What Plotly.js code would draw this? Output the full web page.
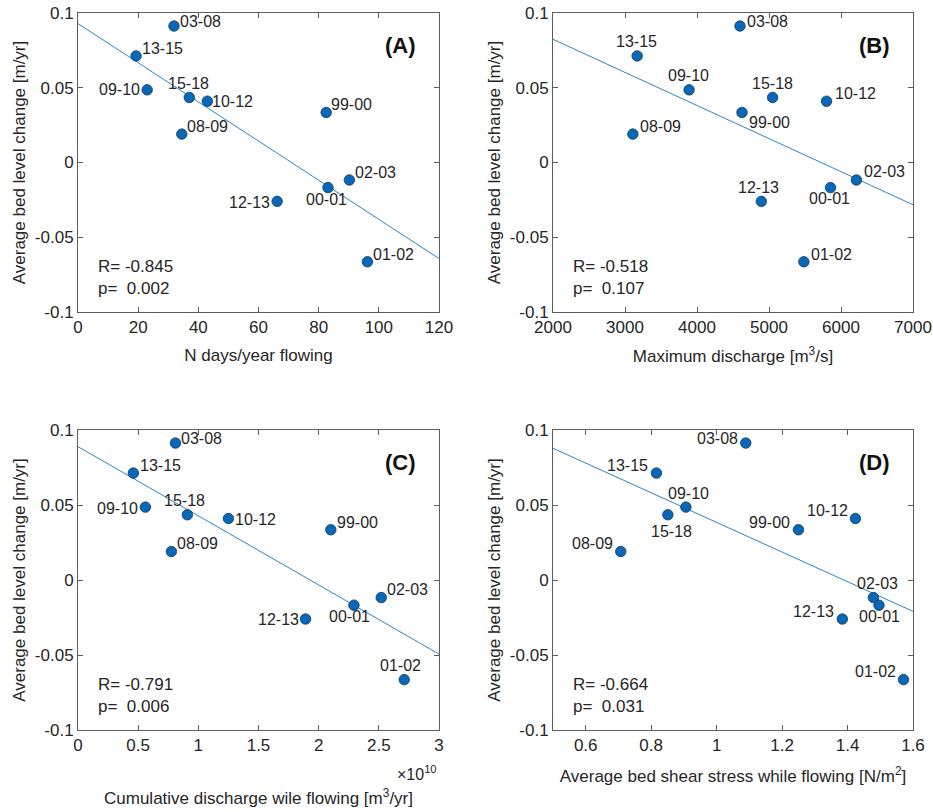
<!DOCTYPE html>
<html>
<head>
<meta charset="utf-8">
<script src="https://cdn.plot.ly/plotly-3.0.1.min.js"></script>
<style>html,body{margin:0;padding:0;background:#fff;}#chart{width:933px;height:812px;}</style>
</head>
<body>
<div id="chart"></div>
<script>
// ---------------- DATA ----------------
const yearLabels   = ['03-08','13-15','09-10','15-18','10-12','99-00','08-09','02-03','00-01','12-13','01-02'];
const bedChange    = [0.0913, 0.0713, 0.0486, 0.0435, 0.0410, 0.0335, 0.0190, -0.0117, -0.0168, -0.0260, -0.0664]; // m/yr
const daysFlowing  = [31.9, 19.3, 23.0, 37.0, 43.0, 82.5, 34.5, 90.2, 83.1, 66.2, 96.2];            // N days/year
const maxDischarge = [4597, 3169, 3890, 5050, 5799, 4625, 3109, 6214, 5854, 4893, 5484];            // m3/s
const cumDischarge = [0.810e10, 0.460e10, 0.560e10, 0.909e10, 1.250e10, 2.101e10, 0.776e10, 2.520e10, 2.293e10, 1.891e10, 2.711e10]; // m3/yr
const shearStress  = [1.089, 0.816, 0.906, 0.851, 1.424, 1.250, 0.707, 1.479, 1.496, 1.384, 1.571]; // N/m2
const statR        = ['-0.845', '-0.518', '-0.791', '-0.664'];
const statP        = ['0.002', '0.107', '0.006', '0.031'];
const panelTags    = ['(A)', '(B)', '(C)', '(D)'];
const xTitles      = ['N days/year flowing', 'Maximum discharge [m<sup>3</sup>/s]',
                      'Cumulative discharge wile flowing [m<sup>3</sup>/yr]',
                      'Average bed shear stress while flowing [N/m<sup>2</sup>]'];
const yTitle       = 'Average bed level change [m/yr]';
const yTickVals    = [-0.1, -0.05, 0, 0.05, 0.1];
const yTickText    = ['-0.1', '-0.05', '0', '0.05', '0.1'];
const xTickValsA   = [0, 20, 40, 60, 80, 100, 120];
const xTickTextA   = ['0', '20', '40', '60', '80', '100', '120'];
const xTickValsB   = [2000, 3000, 4000, 5000, 6000, 7000];
const xTickTextB   = ['2000', '3000', '4000', '5000', '6000', '7000'];
const xTickValsC   = [0, 0.5, 1, 1.5, 2, 2.5, 3];
const xTickTextC   = ['0', '0.5', '1', '1.5', '2', '2.5', '3'];
const xTickValsD   = [0.6, 0.8, 1, 1.2, 1.4, 1.6];
const xTickTextD   = ['0.6', '0.8', '1', '1.2', '1.4', '1.6'];
const cumExponent  = 1e10;

// ---------------- STYLE / LAYOUT ----------------
const FONT = 'Liberation Sans, Arial, Helvetica, sans-serif';
const TXT = '#262626';
const AXC = '#5c5c5c';
const MARK = '#0868b6';
const LINEC = '#2a86c8';

// label placement per point: [xanchor, xshift, yshift]
const L = 'left', R = 'right', C = 'center';
const placeA = [[L,5.7,5],[L,6.3,7.3],[R,-7.3,0],[C,-1.3,14.3],[L,4.3,-0.7],[L,5.3,8],[L,5.3,7.3],[L,5.3,7.7],[C,-1.7,-11.7],[R,-6.7,-0.7],[L,5.3,7.3]];
const placeB = [[L,7.3,5],[C,-0.7,14],[C,-0.7,14],[C,-0.3,14.3],[L,8,8],[L,7.3,-10.3],[L,7.3,8],[L,7.3,8.3],[C,-1.3,-11.3],[C,-3.3,14],[L,7.3,7.7]];
const placeC = [[L,6,5],[L,6.3,8],[R,-7.3,-1],[C,-3,14],[L,6.7,-0.7],[L,6.3,7.7],[L,6,7.7],[L,6,7.7],[C,-4,-11.3],[R,-6.3,-0.7],[C,-3.7,14]];
const placeD = [[R,-7.7,5],[R,-8.3,8],[C,2.3,14],[C,3.3,-16.3],[R,-7.7,8],[R,-8,7.7],[R,-8,7.7],[C,4.3,14],[C,0.3,-11.3],[R,-8.3,7.7],[R,-7.7,7.7]];

const W = 933, H = 812;
const px2x = (a, b) => [a / W, b / W];
const px2y = (top, bottom) => [1 - bottom / H, 1 - top / H];

const panels = [
  {xs: daysFlowing,  scale: 1,           range: [0, 120],    tv: xTickValsA, tt: xTickTextA, dx: px2x(78, 439),  dy: px2y(13, 312),  place: placeA, stand: 12},
  {xs: maxDischarge, scale: 1,           range: [2000, 7000],tv: xTickValsB, tt: xTickTextB, dx: px2x(553, 913), dy: px2y(13, 312),  place: placeB, stand: 13},
  {xs: cumDischarge, scale: cumExponent, range: [0, 3],      tv: xTickValsC, tt: xTickTextC, dx: px2x(78, 439),  dy: px2y(430, 730), place: placeC, stand: 37},
  {xs: shearStress,  scale: 1,           range: [0.5, 1.6],  tv: xTickValsD, tt: xTickTextD, dx: px2x(553, 913), dy: px2y(430, 730), place: placeD, stand: 15}
];

function linfit(x, y) {
  const n = x.length;
  const mx = x.reduce((a, b) => a + b, 0) / n;
  const my = y.reduce((a, b) => a + b, 0) / n;
  let sxy = 0, sxx = 0;
  for (let i = 0; i < n; i++) { sxy += (x[i] - mx) * (y[i] - my); sxx += (x[i] - mx) ** 2; }
  const m = sxy / sxx;
  return {m: m, b: my - m * mx};
}

const traces = [];
const annotations = [];
const layout = {
  width: W, height: H,
  margin: {l: 0, r: 0, t: 0, b: 0},
  paper_bgcolor: '#ffffff', plot_bgcolor: '#ffffff',
  showlegend: false,
  font: {family: FONT, color: TXT, size: 17},
  annotations: annotations
};

panels.forEach((p, k) => {
  const suf = k === 0 ? '' : String(k + 1);
  const xa = 'x' + suf, ya = 'y' + suf;
  const xv = p.xs.map(v => v / p.scale);

  const fit = linfit(xv, bedChange);
  const fx = [p.range[0], p.range[1]];
  traces.push({
    type: 'scatter', mode: 'lines', x: fx, y: fx.map(v => fit.m * v + fit.b),
    xaxis: xa, yaxis: ya, line: {color: LINEC, width: 1}, hoverinfo: 'skip', cliponaxis: true
  });
  traces.push({
    type: 'scatter', mode: 'markers', x: xv, y: bedChange,
    xaxis: xa, yaxis: ya, cliponaxis: false,
    marker: {size: 10.5, color: MARK, line: {color: '#123a63', width: 0.8}}
  });

  const axCommon = {
    showgrid: false, zeroline: false, showline: true, mirror: 'ticks', linecolor: AXC, linewidth: 1,
    ticks: 'inside', ticklen: 5, tickcolor: AXC, tickwidth: 1,
    tickfont: {family: FONT, size: 17, color: TXT}, tickmode: 'array', fixedrange: true
  };
  layout['xaxis' + suf] = Object.assign({}, axCommon, {
    domain: p.dx, range: p.range, anchor: ya, tickvals: p.tv, ticktext: p.tt,
    title: {text: xTitles[k], font: {family: FONT, size: 17, color: TXT}, standoff: p.stand}
  });
  layout['yaxis' + suf] = Object.assign({}, axCommon, {
    domain: p.dy, range: [-0.1, 0.1], anchor: xa, tickvals: yTickVals, ticktext: yTickText,
    title: {text: yTitle, font: {family: FONT, size: 17, color: TXT}, standoff: 4}
  });

  // point labels
  xv.forEach((xx, i) => {
    const pl = p.place[i];
    annotations.push({
      xref: xa, yref: ya, x: xx, y: bedChange[i], text: yearLabels[i], showarrow: false,
      xanchor: pl[0], yanchor: 'middle', xshift: pl[1], yshift: pl[2], borderpad: 0, borderwidth: 0,
      font: {family: FONT, size: 16, color: TXT}
    });
  });

  // R / p statistics
  annotations.push({
    xref: xa + ' domain', yref: ya + ' domain', x: 0.053, y: 0.114, xanchor: 'left', yanchor: 'middle',
    align: 'left', showarrow: false, borderpad: 0,
    text: 'R= ' + statR[k] + '<br>p=\u00a0\u00a0' + statP[k],
    font: {family: FONT, size: 17, color: TXT}
  });
  // panel tag
  annotations.push({
    xref: xa + ' domain', yref: ya + ' domain', x: 0.939, y: 0.89, xanchor: 'right', yanchor: 'middle',
    showarrow: false, borderpad: 0, text: '<b>' + panelTags[k] + '</b>',
    font: {family: FONT, size: 22, color: '#111111'}
  });
});

// exponent label for panel C
annotations.push({
  xref: 'paper', yref: 'paper', x: 438 / W, y: 1 - 773 / H, xanchor: 'right', yanchor: 'middle',
  showarrow: false, borderpad: 0, text: '\u00d710<sup>10</sup>',
  font: {family: FONT, size: 16, color: TXT}
});

Plotly.newPlot('chart', traces, layout, {displayModeBar: false, staticPlot: true});
</script>
</body>
</html>
